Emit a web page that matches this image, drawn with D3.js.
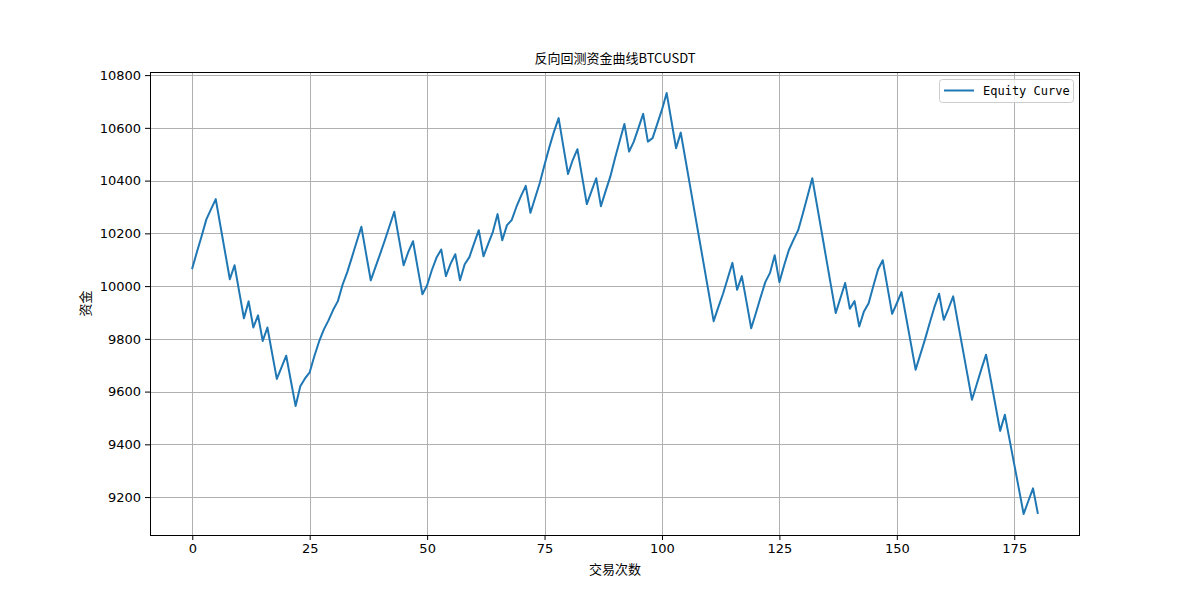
<!DOCTYPE html>
<html>
<head>
<meta charset="utf-8">
<script src="https://cdn.jsdelivr.net/npm/d3@7"></script>
<style>
  body { margin: 0; background: #fff; }
  svg { display: block; }
</style>
</head>
<body>
<svg id="chart" width="1200" height="600"></svg>
<script>
const title = "反向回测资金曲线BTCUSDT";
const xLabel = "交易次数";
const yLabel = "资金";
const seriesName = "Equity Curve";
const xTicks = [0, 25, 50, 75, 100, 125, 150, 175];
const yTicks = [9200, 9400, 9600, 9800, 10000, 10200, 10400, 10600, 10800];
const equity = [
  10068, 10130, 10190, 10253, 10292, 10330, 10228, 10127, 10026, 10079,
  9978, 9878, 9942, 9843, 9889, 9792, 9843, 9745, 9648, 9692,
  9736, 9640, 9545, 9620, 9650, 9673, 9735, 9790, 9835, 9870,
  9910, 9943, 10005, 10053, 10110, 10168, 10225, 10123, 10022, 10072,
  10122, 10174, 10228, 10282, 10180, 10079, 10130, 10170, 10068, 9969,
  10003, 10060, 10108, 10139, 10038, 10085, 10121, 10022, 10083, 10110,
  10162, 10212, 10113, 10160, 10206, 10273, 10174, 10231, 10250, 10300,
  10342, 10380, 10278, 10335, 10392, 10460, 10525, 10585, 10637, 10530,
  10425, 10478, 10519, 10415, 10311, 10360, 10409, 10303, 10360, 10415,
  10485, 10550, 10615, 10510, 10548, 10600, 10653, 10548, 10561, 10615,
  10669, 10732, 10628, 10523, 10582, 10480, 10378, 10276, 10174, 10072,
  9970, 9867, 9920, 9971, 10030, 10088, 9986, 10038, 9940, 9840,
  9898, 9958, 10015, 10050, 10117, 10015, 10078, 10136, 10175, 10212,
  10275, 10342, 10409, 10307, 10205, 10102, 10000, 9898, 9955, 10012,
  9914, 9943, 9847, 9904, 9935, 10000, 10063, 10098, 9997, 9895,
  9935, 9977, 9880, 9782, 9683, 9740, 9798, 9860, 9920, 9971,
  9872, 9915, 9961, 9862, 9765, 9667, 9569, 9627, 9685, 9740,
  9645, 9548, 9451, 9512, 9418, 9324, 9230, 9136, 9185, 9233,
  9140
];

const svg = d3.select("#chart");
const L = 150, R = 1080, T = 72, B = 535;
const n = equity.length;
const xPad = (n - 1) * 0.05;
const yMin = d3.min(equity), yMax = d3.max(equity);
const yPad = (yMax - yMin) * 0.05;
const x = d3.scaleLinear().domain([0 - xPad, (n - 1) + xPad]).range([L, R]);
const y = d3.scaleLinear().domain([yMin - yPad, yMax + yPad]).range([B, T]);

const tickFont = "'DejaVu Sans', sans-serif";
const cjkFont = "'Noto Sans CJK SC', sans-serif";

// grid
const grid = svg.append("g");
grid.selectAll(".gx").data(xTicks).enter().append("line")
  .attr("x1", d => Math.round(x(d)) + 0.5).attr("x2", d => Math.round(x(d)) + 0.5)
  .attr("y1", T).attr("y2", B)
  .attr("stroke", "#b0b0b0").attr("stroke-width", 1);
grid.selectAll(".gy").data(yTicks).enter().append("line")
  .attr("y1", d => Math.round(y(d)) + 0.5).attr("y2", d => Math.round(y(d)) + 0.5)
  .attr("x1", L).attr("x2", R)
  .attr("stroke", "#b0b0b0").attr("stroke-width", 1);

// line
const line = d3.line().x((d, i) => x(i)).y(d => y(d));
svg.append("path").datum(equity)
  .attr("d", line)
  .attr("fill", "none")
  .attr("stroke", "#1f77b4")
  .attr("stroke-width", 2)
  .attr("stroke-linejoin", "round")
  .attr("stroke-linecap", "square");

// axes
const xAxis = d3.axisBottom(x).tickValues(xTicks).tickSize(5).tickPadding(4).tickFormat(d3.format("d"));
const yAxis = d3.axisLeft(y).tickValues(yTicks).tickSize(5).tickPadding(4).tickFormat(d3.format("d"));
const gx = svg.append("g").attr("transform", `translate(0,${B})`).call(xAxis);
const gy = svg.append("g").attr("transform", `translate(${L},0)`).call(yAxis);
[gx, gy].forEach(g => {
  g.select(".domain").remove();
  g.selectAll("line").attr("stroke", "#000").attr("stroke-width", 1);
  g.selectAll("text").attr("font-family", tickFont).attr("font-size", 13).attr("fill", "#000");
});

// frame
svg.append("rect").attr("x", L + 0.5).attr("y", T + 0.5)
  .attr("width", R - L - 1).attr("height", B - T)
  .attr("fill", "none").attr("stroke", "#000").attr("stroke-width", 1);

// title & labels
svg.append("text").attr("x", (L + R) / 2).attr("y", 63)
  .attr("text-anchor", "middle").attr("font-family", cjkFont).attr("font-size", 13)
  .text(title);
svg.append("text").attr("x", (L + R) / 2).attr("y", 574)
  .attr("text-anchor", "middle").attr("font-family", cjkFont).attr("font-size", 13)
  .text(xLabel);
svg.append("text").attr("transform", `translate(90,${(T + B) / 2}) rotate(-90)`)
  .attr("text-anchor", "middle").attr("font-family", cjkFont).attr("font-size", 13)
  .text(yLabel);

// legend
const lg = svg.append("g");
lg.append("rect").attr("x", 939.5).attr("y", 79.5).attr("width", 134).attr("height", 23)
  .attr("rx", 3).attr("fill", "#fff").attr("fill-opacity", 0.8)
  .attr("stroke", "#ccc").attr("stroke-width", 1);
lg.append("line").attr("x1", 944).attr("x2", 974).attr("y1", 90.5).attr("y2", 90.5)
  .attr("stroke", "#1f77b4").attr("stroke-width", 2);
lg.append("text").attr("x", 983).attr("y", 95).attr("font-family", "'DejaVu Sans Mono', monospace")
  .attr("font-size", 12).text(seriesName);
</script>
</body>
</html>
